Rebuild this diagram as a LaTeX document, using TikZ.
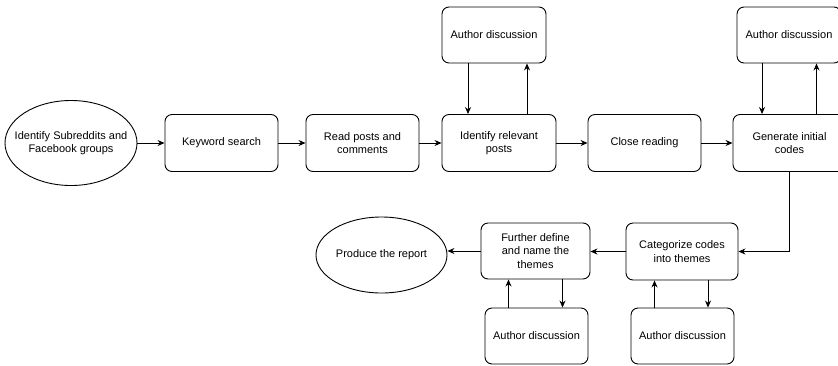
\documentclass[tikz,border=0pt]{standalone}
\usepackage{fontspec}
\setmainfont{Liberation Sans}
\usetikzlibrary{arrows.meta,shapes.geometric}

\begin{document}
\begin{tikzpicture}[x=1pt,y=-1pt,line width=0.9pt]%
  \tikzstyle{boxn}=[rectangle,draw,rounded corners=7pt,align=center,minimum width=113pt,minimum height=57pt,inner sep=2pt,font=\fontsize{11}{13.3}\selectfont]
  \tikzstyle{talkn}=[boxn,minimum width=104pt,minimum height=56pt]
  \tikzstyle{elln}=[ellipse,draw,align=center,inner sep=0pt,font=\fontsize{11}{13.3}\selectfont]
  \tikzstyle{arr}=[-{Stealth[length=7pt,width=6pt]}]
  \clip (0,0) rectangle (838,365);
  % top row
  \node(start)[elln,inner xsep=-14pt,minimum width=132pt,minimum height=85pt] at (71,143) {Identify Subreddits and\\Facebook groups};
  \node(kw)[boxn] at (221.5,143) {Keyword search};
  \node(read)[boxn] at (362.5,143) {Read posts and\\comments};
  \node(ident)[boxn,minimum width=114pt] at (499,143) {Identify relevant\\posts};
  \node(ad1)[talkn] at (494,35) {Author discussion};
  \node(close)[boxn] at (644.5,143) {Close reading};
  \node(gen)[boxn] at (789.5,143) {Generate initial\\codes};
  \node(ad2)[talkn] at (789,35) {Author discussion};
  % bottom row
  \node(cat)[boxn,minimum width=112pt] at (682,251.5) {Categorize codes\\into themes};
  \node(ad4)[talkn,minimum width=103pt] at (682.5,336) {Author discussion};
  \node(fur)[boxn,minimum width=109pt,minimum height=56pt] at (535.5,251) {Further define\\and name the\\themes};
  \node(ad3)[talkn,minimum width=103pt] at (536.5,336) {Author discussion};
  \node(rep)[elln,inner xsep=-3pt,minimum width=131pt,minimum height=76pt] at (381.5,255) {Produce the report};
  % connectors
  \draw[arr] (start) -- (kw);
  \draw[arr] (kw) -- (read);
  \draw[arr] (read) -- (ident);
  \draw[arr] (ident) -- (close);
  \draw[arr] (close) -- (gen);
  \draw[arr] ([xshift=-26pt]ad1.south) -- ([xshift=-26pt]ad1.south |- ident.north);
  \draw[arr] ([xshift=28pt]ident.north) -- ([xshift=28pt]ident.north |- ad1.south);
  \draw[arr] ([xshift=-27pt]ad2.south) -- ([xshift=-27pt]ad2.south |- gen.north);
  \draw[arr] ([xshift=27pt]gen.north) -- ([xshift=27pt]gen.north |- ad2.south);
  \draw[arr] (gen.south) |- (cat.east);
  \draw[arr] (cat.west) -- (cat.west -| fur.east);
  \draw[arr] (fur.west) -- (fur.west -| rep.east);
  \draw[arr] ([xshift=-28pt]ad4.north) -- ([xshift=-28pt]ad4.north |- cat.south);
  \draw[arr] ([xshift=26pt]cat.south) -- ([xshift=26pt]cat.south |- ad4.north);
  \draw[arr] ([xshift=-28pt]ad3.north) -- ([xshift=-28pt]ad3.north |- fur.south);
  \draw[arr] ([xshift=27pt]fur.south) -- ([xshift=27pt]fur.south |- ad3.north);
\end{tikzpicture}
\end{document}
